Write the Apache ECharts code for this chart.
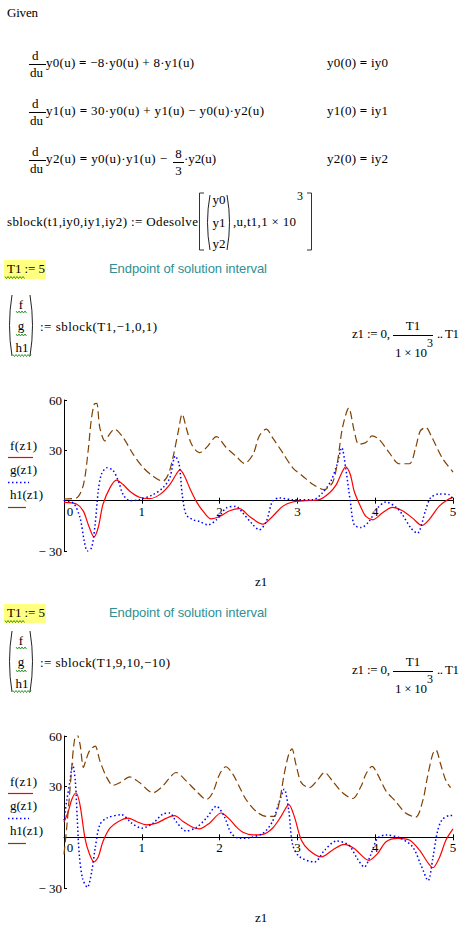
<!DOCTYPE html>
<html><head><meta charset="utf-8">
<script src="https://cdn.jsdelivr.net/npm/echarts@6.0.0/dist/echarts.min.js"></script>
<style>
html,body{margin:0;padding:0;background:#fff;}
#chart{position:absolute;left:0;top:0;width:470px;height:931px;}
#sheet{position:absolute;left:0;top:0;width:470px;height:931px;pointer-events:none;}
#sheet text{font-family:'Liberation Serif','Times New Roman',serif;font-size:13px;fill:#000;}
</style></head><body>
<div id="chart"></div>
<svg id="sheet" xmlns="http://www.w3.org/2000/svg" width="470" height="931"></svg>
<script>
// ---- Data (z1 in [0,5]) ----
// Plot 1: sblock(T1,-1,0,1)
const tF1 = [0,0.16,0.25,0.31,0.385,0.44,0.50,0.59,0.675,0.76,0.846,0.97,1.10,1.23,1.36,1.44,1.49,1.55,1.615,1.70,1.79,1.89,2.0,2.13,2.256,2.385,2.556,2.68,2.81,2.94,3.11,3.28,3.41,3.50,3.56,3.62,3.68,3.73,3.82,3.88,3.97,4.09,4.22,4.35,4.48,4.60,4.69,4.82,4.93,5.0];
const vF1 = [-1,-2,-6.4,-14,-21.6,-16,-2.4,7.6,12.2,9.6,5.6,2,1.2,3.6,9.6,15.6,18.4,14.6,7.6,-0.4,-6.4,-10.8,-9.4,-6,-4.8,-9.4,-14,-9.4,-3.4,-0.8,0,0.6,4.6,9.6,15.6,20.2,15.6,5.6,-4.4,-9.4,-11.4,-7.4,-4,-6,-10.4,-14.8,-11.4,-3.4,0.6,2];
const tG1 = [0,0.12,0.205,0.26,0.30,0.355,0.40,0.44,0.48,0.55,0.63,0.70,0.76,0.846,0.97,1.145,1.27,1.36,1.43,1.48,1.52,1.57,1.66,1.74,1.85,1.96,2.085,2.21,2.30,2.43,2.51,2.60,2.68,2.77,2.94,3.20,3.32,3.43,3.51,3.57,3.62,3.68,3.73,3.82,3.92,4.03,4.14,4.27,4.35,4.46,4.54,4.65,4.71,4.82,4.95,5.0];
const vG1 = [0,-1.4,-10,-24,-30,-28,-14,5.6,15.6,19.6,18,11.6,3.6,0,0.6,3.6,7.6,13.6,26.6,21.6,3.6,-8.4,-11.4,-12.4,-14.4,-11.4,-4.4,-3.4,-7.4,-14.4,-17.4,-12.4,-0.4,1.6,0.6,0.6,4.6,11.6,21.6,31.6,19.6,-0.4,-14.4,-16,-12.4,-4.4,-0.8,-4,-8.4,-16.4,-19.4,-5.4,1.6,4,3.6,0.6];
const tH1 = [0,0.16,0.25,0.31,0.35,0.39,0.42,0.46,0.526,0.59,0.65,0.76,0.89,1.02,1.145,1.27,1.34,1.40,1.47,1.52,1.57,1.64,1.74,1.83,1.96,2.085,2.21,2.32,2.43,2.51,2.60,2.68,2.81,2.94,3.07,3.19,3.34,3.45,3.51,3.58,3.66,3.73,3.79,3.88,3.96,4.05,4.18,4.31,4.44,4.52,4.58,4.65,4.73,4.86,5.0];
const vH1 = [1,1.6,9.6,29.6,48,57.6,58,43.6,35.6,40,42.6,37.6,27.6,19.6,14.6,11.6,15.6,25.6,41.6,51.6,43.6,33.6,28.6,31.6,38.2,31.6,26.6,22.2,27.6,38.6,42.6,37.6,28.6,19.6,14.6,10,6.6,10.6,21.6,43.6,55.2,41.6,33.6,34.6,38.6,36.6,28.6,22,22,31.6,41.6,43.6,37.6,25.6,17];
// Plot 2: sblock(T1,9,10,-10)
const tF2 = [0,0.056,0.10,0.154,0.205,0.27,0.325,0.385,0.44,0.50,0.59,0.70,0.825,0.93,1.06,1.19,1.32,1.42,1.53,1.66,1.74,1.87,2.02,2.13,2.21,2.30,2.43,2.556,2.68,2.79,2.89,2.96,3.05,3.15,3.31,3.45,3.60,3.73,3.92,4.03,4.14,4.29,4.44,4.57,4.67,4.74,4.82,4.91,5.0];
const vF2 = [9,15.4,22.4,26.4,19.4,-0.6,-9.6,-14.6,-11.6,-2.6,5.4,9.4,11.4,9.4,7.4,8.4,11.4,12.8,9.4,5.8,5,8.4,14.4,10.6,6.4,3,1.4,1.8,5.4,12.4,19.4,12.4,-1.6,-7.6,-11.6,-7.6,-4.2,-6.6,-13.6,-9.6,-2.6,-0.6,-1.6,-7.6,-14.6,-18,-12.6,-1.6,5];
const tG2 = [0,0.034,0.077,0.11,0.145,0.17,0.197,0.24,0.30,0.355,0.40,0.46,0.55,0.74,0.87,1.00,1.145,1.27,1.36,1.44,1.57,1.70,1.83,1.96,2.06,2.15,2.256,2.385,2.556,2.68,2.77,2.83,2.89,2.94,3.03,3.22,3.35,3.50,3.66,3.77,3.86,3.94,4.03,4.14,4.31,4.48,4.59,4.68,4.74,4.80,4.86,4.97,5.0];
const vG2 = [10,21.4,33.4,43.4,33.4,11.4,-10.6,-24.6,-29.6,-20.6,-6.6,7.4,11.4,13.4,8.4,5.4,8.4,13.8,14.4,9.4,3.8,5.8,11.4,18.4,12.4,2.4,-0.6,-0.2,2.4,9.4,21.4,28.4,15.4,-4.6,-11.6,-14.6,-7.6,-2.2,-4.6,-12.6,-17.6,-10.6,-0.6,1.4,-0.2,-5.6,-16.6,-25.6,-12.6,3.4,10.4,13,13];
const tH2 = [0,0.034,0.068,0.10,0.128,0.16,0.205,0.25,0.28,0.33,0.40,0.46,0.55,0.63,0.72,0.846,0.97,1.145,1.27,1.36,1.44,1.57,1.70,1.83,1.91,2.0,2.08,2.17,2.26,2.34,2.47,2.60,2.70,2.77,2.83,2.89,2.93,2.98,3.05,3.15,3.25,3.35,3.45,3.58,3.71,3.82,3.88,3.96,4.03,4.14,4.26,4.39,4.52,4.61,4.67,4.74,4.78,4.84,4.91,4.97];
const vH2 = [-10,5.4,23.4,41.4,55.4,62,55.4,41.4,45.4,51.4,54,45.4,35.4,30.8,32.4,35.8,32.4,26.4,30.4,35.4,38.4,33.4,27.4,22.4,26.4,37.4,41.8,37.4,29.4,22.4,15.4,12.4,12.4,21.4,37.4,49.4,52.4,43.4,32.4,29.4,33.4,38.4,33.4,26.4,23,30.4,37.4,42,37.4,27.4,21.4,14.4,12,21.4,35.4,49.4,51.8,43.4,33.4,29.4];
// Axis ticks
const xTicks = [0,1,2,3,4,5];
const yTicks = [-30,0,30,60];

// ---- Chart ----
const chart = echarts.init(document.getElementById('chart'), null, {renderer:'svg'});
const font = {fontFamily:'Liberation Serif', fontSize:13, color:'#000'};
const G = [{top:400, h:151}, {top:736, h:152}];
const grids = G.map(g => ({left:64, top:g.top, width:389, height:g.h, containLabel:false, outerBoundsMode:'none'}));
const yMin = yTicks[0], yMax = yTicks[yTicks.length-1];
function xAx(gi){
  // x axis drawn through y = 0 (offset up from the grid bottom)
  const off = -G[gi].h * (0 - yMin) / (yMax - yMin);
  return [
    {gridIndex:gi, type:'value', min:xTicks[0], max:xTicks[xTicks.length-1], interval:1, position:'bottom', offset:off,
     axisLine:{show:true, onZero:false, lineStyle:{color:'#000', width:1}},
     axisTick:{show:true, inside:true, length:3, lineStyle:{color:'#000'}},
     splitLine:{show:false},
     axisLabel:Object.assign({}, font, {margin:4, formatter:v => v===0 ? '{z|0}' : String(v),
        rich:{z:Object.assign({}, font, {padding:[0,0,0,12]})}})},
    {gridIndex:gi, type:'value', min:xTicks[0], max:xTicks[xTicks.length-1], interval:1, position:'bottom', offset:off,
     axisLine:{show:false, onZero:false},
     axisTick:{show:true, inside:false, length:3, lineStyle:{color:'#000'}},
     axisLabel:{show:false}, splitLine:{show:false}}
  ];
}
function yAx(gi){
  return {gridIndex:gi, type:'value', min:yMin, max:yMax, interval:30,
    axisLine:{show:true, onZero:false, lineStyle:{color:'#000', width:1}},
    axisTick:{show:true, inside:true, length:3, lineStyle:{color:'#000'}},
    splitLine:{show:false},
    axisLabel:Object.assign({}, font, {margin:2, formatter:v => v===0 ? '' : (v<0 ? '\u2212 '+Math.abs(v) : String(v))})};
}
function ser(name, xi, yi, t, v, color, type, w){
  return {type:'line', name, xAxisIndex:xi, yAxisIndex:yi, data:t.map((x,i)=>[x, v[i]]),
    showSymbol:false, symbol:'none', smooth:0.3, clip:true, animation:false,
    lineStyle:{color, width:w, type}, itemStyle:{color}};
}
const RED='#ff0000', BLUE='#0000ff', BROWN='#804000';
chart.setOption({
  animation:false,
  grid:grids,
  xAxis:[...xAx(0), ...xAx(1)],
  yAxis:[yAx(0), yAx(1)],
  series:[
    ser('f(z1)',0,0,tF1,vF1,RED,'solid',1.2),
    ser('g(z1)',0,0,tG1,vG1,BLUE,[1.5,2.5],1.5),
    ser('h1(z1)',0,0,tH1,vH1,BROWN,[8,4],1.2),
    ser('f(z1)',2,1,tF2,vF2,RED,'solid',1.2),
    ser('g(z1)',2,1,tG2,vG2,BLUE,[1.5,2.5],1.5),
    ser('h1(z1)',2,1,tH2,vH2,BROWN,[8,4],1.2)
  ]
});

// ---- Worksheet text overlay ----
const NS='http://www.w3.org/2000/svg';
const svg=document.getElementById('sheet');
function el(tag, attrs, text){
  const e=document.createElementNS(NS,tag);
  for(const k in attrs) e.setAttribute(k, attrs[k]);
  if(text!=null) e.textContent=text;
  svg.appendChild(e); return e;
}
// '§' marks a bold '=' (Mathcad boolean equals)
function txt(x,y,s,opt){
  opt=opt||{};
  const a={x:x, y:y};
  if(opt.len){a.textLength=opt.len; a.lengthAdjust='spacing';}
  if(opt.anchor) a['text-anchor']=opt.anchor;
  let st='';
  if(opt.size) st+='font-size:'+opt.size+'px;';
  if(opt.family) st+='font-family:'+opt.family+';';
  if(opt.fill) st+='fill:'+opt.fill+';';
  if(st) a.style=st;
  const e=el('text',a,null);
  const parts=s.split('§');
  parts.forEach((p,i)=>{
    if(p) { const t=document.createElementNS(NS,'tspan'); t.textContent=p; e.appendChild(t); }
    if(i<parts.length-1){ const b=document.createElementNS(NS,'tspan'); b.setAttribute('style','font-weight:bold'); b.textContent='='; e.appendChild(b); }
  });
  return e;
}
function hline(x1,x2,y,color,w,dash){
  const a={x1:x1,x2:x2,y1:y,y2:y,stroke:color||'#000','stroke-width':w||1};
  if(dash) a['stroke-dasharray']=dash;
  el('line',a);
}
function squiggle(x1,x2,y){
  let pts=[]; let up=true;
  for(let x=x1;x<=x2;x+=1.5){ pts.push(x+','+(up?y:y+2)); up=!up; }
  el('polyline',{points:pts.join(' '),fill:'none',stroke:'#008000','stroke-width':0.8});
}
function lparen(x,top,bot){ el('path',{d:'M'+(x+4)+' '+top+' Q'+(x-1)+' '+((top+bot)/2)+' '+(x+4)+' '+bot,fill:'none',stroke:'#222','stroke-width':1}); }
function rparen(x,top,bot){ el('path',{d:'M'+(x-4)+' '+top+' Q'+(x+1)+' '+((top+bot)/2)+' '+(x-4)+' '+bot,fill:'none',stroke:'#222','stroke-width':1}); }
function frac(xl,xr,yLine,num,den){
  const cx=(xl+xr)/2;
  txt(cx,yLine-4,num,{anchor:'middle'});
  hline(xl,xr,yLine+0.5,'#000',1);
  txt(cx,yLine+13,den,{anchor:'middle'});
}

txt(7,17,'Given',{len:31});
// ODE rows
const rows=[
  {y:67, main:'y0(u) § \u22128\u00b7y0(u) + 8\u00b7y1(u)', len:148, ic:'y0(0) § iy0'},
  {y:115, main:'y1(u) § 30\u00b7y0(u) + y1(u) \u2212 y0(u)\u00b7y2(u)', len:218, ic:'y1(0) § iy1'},
  {y:163, main:'y2(u) § y0(u)\u00b7y1(u) \u2212', len:121, ic:'y2(0) § iy2'}
];
rows.forEach(r=>{
  txt(32,r.y-7,'d');
  hline(29,46,r.y-2.5,'#000',1);
  txt(30,r.y+10,'du');
  txt(46,r.y,r.main,{len:r.len});
  txt(327,r.y,r.ic,{len:61});
});
frac(173,184,162,'8','3');
txt(184,163,'\u00b7y2(u)',{len:32});
// Odesolve line
txt(7,226,'sblock(t1,iy0,iy1,iy2) := Odesolve',{len:191});
el('path',{d:'M204 193 H199.5 V250 H204',fill:'none',stroke:'#333','stroke-width':1});
lparen(206,195,250); rparen(231,195,250);
txt(219,204,'y0',{anchor:'middle'});
txt(219,227,'y1',{anchor:'middle'});
txt(219,248,'y2',{anchor:'middle'});
txt(233,226,',u,t1,1 \u00d7 10',{len:63});
txt(297,200,'3',{size:12});
el('path',{d:'M307 193 H311.5 V250 H307',fill:'none',stroke:'#333','stroke-width':1});

function block(dyT, dy, args, argLen){
  el('rect',{x:4,y:260+dyT,width:42,height:19,fill:'#ffff80'});
  txt(7,273+dyT,'T1 := 5',{len:38});
  squiggle(5,25,276.5+dyT);
  txt(109,273+dyT,'Endpoint of solution interval',{len:158,family:"'Liberation Sans',Arial,sans-serif",fill:'#2f8f94'});
  lparen(8,295+dy,356+dy); rparen(34,295+dy,356+dy);
  txt(21,309+dy,'f',{anchor:'middle'}); squiggle(16,27,311+dy);
  txt(21,330+dy,'g',{anchor:'middle'}); squiggle(16,27,334+dy);
  txt(22,352+dy,'h1',{anchor:'middle'}); squiggle(13,31,354.5+dy);
  txt(40,331+dy,args,{len:argLen});
  txt(352,338+dy,'z1 := 0,',{len:38});
  txt(413,330+dy,'T1',{anchor:'middle'});
  hline(393,433,335.5+dy,'#000',1);
  txt(395,357+dy,'1 \u00d7 10',{len:32});
  txt(427,347+dy,'3',{size:12});
  txt(437,338+dy,'.. T1',{len:22});
}
block(0,0,':= sblock(T1,\u22121,0,1)',117);
block(344,336,':= sblock(T1,9,10,\u221210)',130);

function legend(dy){
  txt(10,450+dy,'f(z1)',{len:27}); hline(8,33,457.5+dy,RED,1.2);
  txt(10,474+dy,'g(z1)',{len:27}); hline(8,29,482.5+dy,BLUE,1.5,'1.5,2.5');
  txt(10,499+dy,'h1(z1)',{len:33}); hline(8,26,507.5+dy,BROWN,1.2);
  txt(255,586+dy,'z1');
}
legend(0); legend(336);
</script>
</body></html>
